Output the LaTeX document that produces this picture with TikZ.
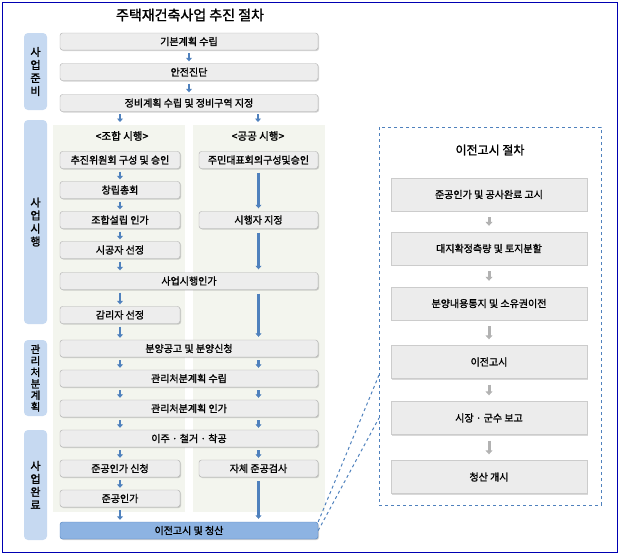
\documentclass[tikz,border=0pt]{standalone}
\usepackage{fontspec}
\setmainfont{Noto Sans CJK KR}[AutoFakeBold=1.5]
\usetikzlibrary{arrows.meta,shadows}
\definecolor{stg}{HTML}{C6D9F1}
\definecolor{arr}{HTML}{4F81BD}
\definecolor{colbg}{HTML}{F3F5EE}
\definecolor{fin}{HTML}{8DB3E2}
\tikzset{
 bx/.style={draw=gray!65,fill=gray!14,rounded corners=2.5pt,minimum height=17pt,font=\fontsize{10}{11}\selectfont\bfseries,inner sep=0pt,drop shadow={shadow xshift=1pt,shadow yshift=-1pt,opacity=0.35}},
 stage/.style={fill=stg,rounded corners=4pt,minimum width=23pt,inner sep=0pt,font=\fontsize{11}{13}\selectfont\bfseries,align=center},
 ar/.style={-{Triangle[length=3.5pt,width=6pt]},line width=2.2pt,color=arr},
 rbx/.style={draw=gray!40,fill=gray!15,minimum width=196pt,minimum height=33pt,font=\fontsize{10}{11}\selectfont\bfseries,inner sep=0pt,drop shadow={shadow xshift=1pt,shadow yshift=-1pt,opacity=0.3}},
 gar/.style={-{Triangle[length=4pt,width=7pt]},line width=3pt,color=gray!60},
 dl/.style={dashed,color=arr,line width=1pt},
}
\begin{document}
\begin{tikzpicture}[x=1pt,y=-1pt]
\useasboundingbox (0,0) rectangle (620,555);
\draw[blue!70!black,line width=0.8pt] (2,2) rectangle (617,552);
\node[font=\fontsize{14}{16}\selectfont\bfseries] (title) at (190,15) {주택재건축사업 추진 절차};
% column backgrounds
\fill[colbg] (53,125) rectangle (185,512);
\fill[colbg] (193,125) rectangle (325,512);
% stages
\node[stage,minimum height=77pt] (s1) at (35.5,71.5) {사\\업\\준\\비};
\node[stage,minimum height=204pt] (s2) at (35.5,222) {사\\업\\시\\행};
\node[stage,minimum height=76pt,font=\fontsize{10.5}{11.5}\selectfont\bfseries] (s3) at (35.5,378) {관\\리\\처\\분\\계\\획};
\node[stage,minimum height=110pt] (s4) at (35.5,485) {사\\업\\완\\료};
% full width boxes
\tikzset{fw/.style={bx,minimum width=258pt},lw/.style={bx,minimum width=120pt}}
\node[fw] (b1) at (189,41.5) {기본계획 수립};
\node[fw] (b2) at (189,72) {안전진단};
\node[fw] (b3) at (189,103) {정비계획 수립 및 정비구역 지정};
\node[font=\fontsize{10.5}{12}\selectfont\bfseries] (h1) at (122,136) {<조합 시행>};
\node[font=\fontsize{10.5}{12}\selectfont\bfseries] (h2) at (258,136) {<공공 시행>};
\node[lw] (l1) at (120,160) {추진위원회 구성 및 승인};
\node[lw] (l2) at (120,190) {창립총회};
\node[lw] (l3) at (120,220) {조합설립 인가};
\node[lw] (l4) at (120,250) {시공자 선정};
\node[fw] (b4) at (189,281) {사업시행인가};
\node[lw] (l5) at (120,315) {감리자 선정};
\node[fw] (b5) at (189,348.5) {분양공고 및 분양신청};
\node[fw] (b6) at (189,378.5) {관리처분계획 수립};
\node[fw] (b7) at (189,408.5) {관리처분계획 인가};
\node[fw] (b8) at (189,438.5) {이주 · 철거 · 착공};
\node[lw] (l6) at (120,468.5) {준공인가 신청};
\node[lw] (l7) at (120,498.5) {준공인가};
\node[fw,fill=fin,draw=arr] (b9) at (189,530.5) {이전고시 및 청산};
\node[lw,minimum width=119pt] (r1) at (258.5,160) {주민대표회의구성및승인};
\node[lw,minimum width=119pt] (r2) at (258.5,220) {시행자 지정};
\node[lw,minimum width=119pt] (r3) at (258.5,468.5) {자체 준공검사};
% arrows
\tikzset{sa/.style={yshift=-3pt},ea/.style={yshift=2pt}}
\draw[ar] ([sa]b1.south) -- ([ea]b2.north);
\draw[ar] ([sa]b2.south) -- ([ea]b3.north);
\coordinate (a1) at (120,114); \coordinate (a2) at (258,114);
\draw[ar] (a1) -- ++(0,8);
\draw[ar] (a2) -- ++(0,8);
\draw[ar] ([sa]l1.south) -- ([ea]l2.north);
\draw[ar] ([sa]l2.south) -- ([ea]l3.north);
\draw[ar] ([sa]l3.south) -- ([ea]l4.north);
\draw[ar] ([sa]l4.south) -- ([ea]l4.south|-b4.north);
\draw[ar] ([sa]l4.south|-b4.south) -- ([ea]l5.north);
\draw[ar] ([sa]l5.south) -- ([ea]l5.south|-b5.north);
\draw[ar] ([yshift=-4pt]r1.south) -- ([yshift=3pt]r2.north);
\draw[ar] ([yshift=-4pt]r2.south) -- ([yshift=3pt]r2.south|-b4.north);
\draw[ar] ([yshift=-4pt]r2.south|-b4.south) -- ([yshift=3pt]r2.south|-b5.north);
\foreach \u/\v in {b5/b6,b6/b7,b7/b8}{
 \draw[ar] ([sa]l1.south|-\u.south) -- ([ea]l1.south|-\v.north);
 \draw[ar] ([sa]r1.south|-\u.south) -- ([ea]r1.south|-\v.north);
}
\draw[ar] ([sa]l1.south|-b8.south) -- ([ea]l6.north);
\draw[ar] ([sa]r1.south|-b8.south) -- ([ea]r3.north);
\draw[ar] ([sa]l6.south) -- ([ea]l7.north);
\draw[ar] ([sa]l7.south) -- ([ea]l7.south|-b9.north);
\draw[ar] ([yshift=-4pt]r3.south) -- ([yshift=3pt]r3.south|-b9.north);
% right panel
\draw[dl] (379,127) rectangle (601,505);
\coordinate (c1) at (379,375); \coordinate (c2) at (379,418);
\draw[dl] (b9.north east) -- (c1);
\draw[dl] (b9.east) -- (c2);
\node[font=\fontsize{12}{14}\selectfont\bfseries] (t2) at (490,150) {이전고시 절차};
\node[rbx] (p1) at (489,194.5) {준공인가 및 공사완료 고시};
\node[rbx] (p2) at (489,248.5) {대지확정측량 및 토지분할};
\node[rbx] (p3) at (489,303.5) {분양내용통지 및 소유권이전};
\node[rbx] (p4) at (489,362) {이전고시};
\node[rbx] (p5) at (489,418) {시장 · 군수 보고};
\node[rbx] (p6) at (489,477) {청산 개시};
\foreach \u/\v in {p1/p2,p2/p3,p3/p4,p4/p5,p5/p6}
 \draw[gar] ([yshift=-6pt]\u.south) -- ([yshift=6pt]\v.north);
\end{tikzpicture}
\end{document}
